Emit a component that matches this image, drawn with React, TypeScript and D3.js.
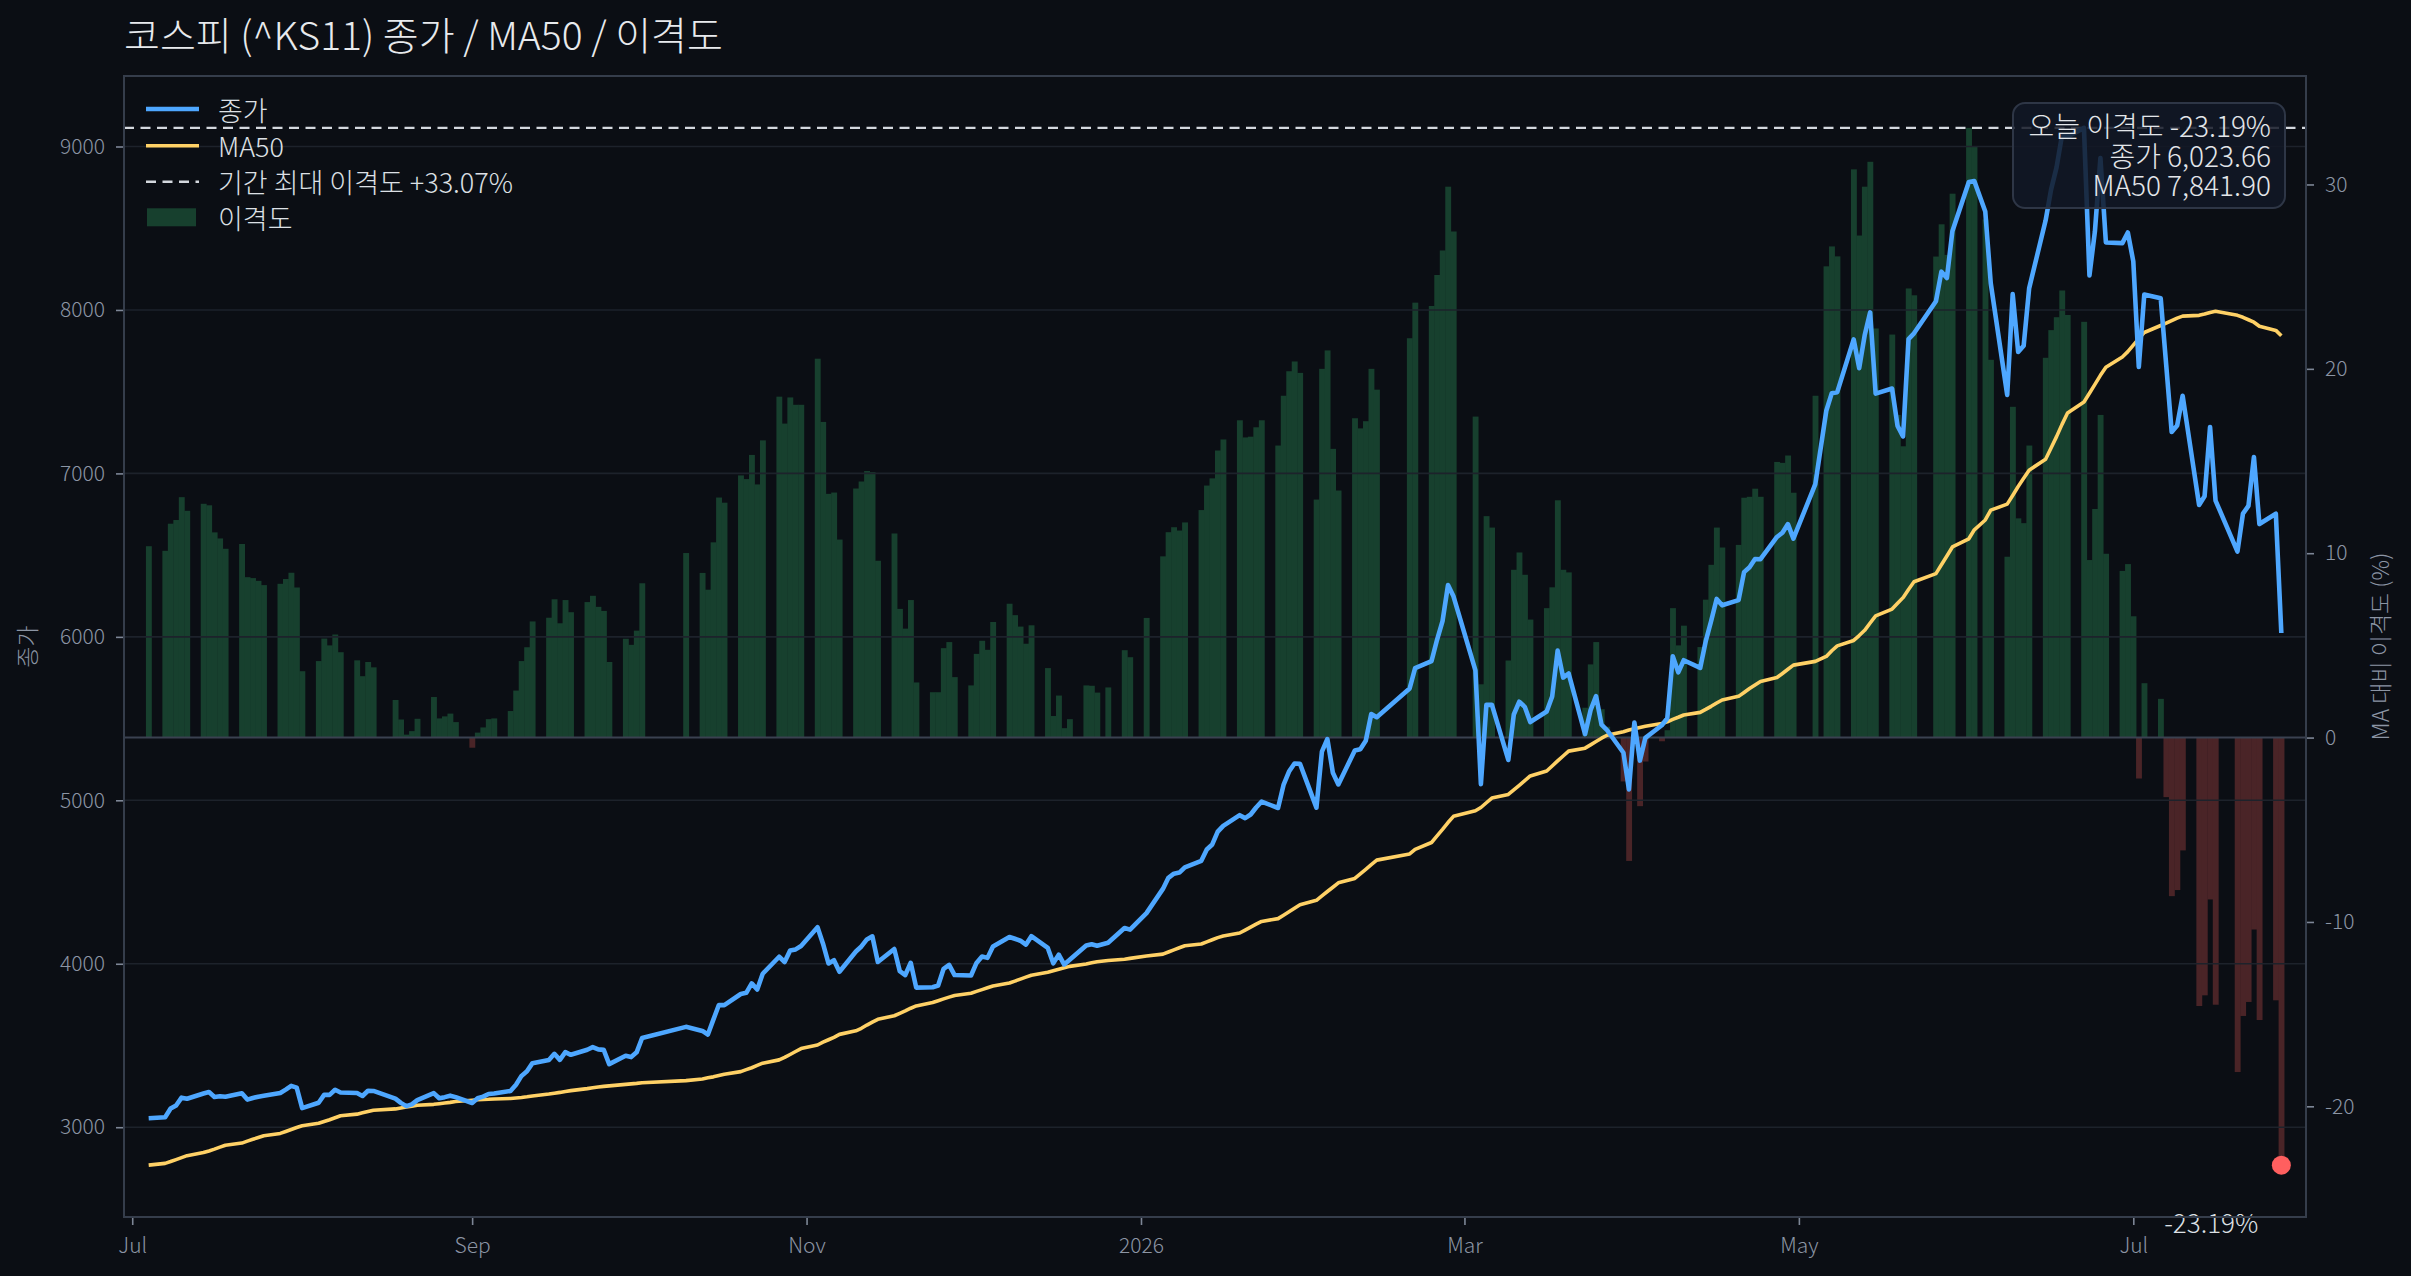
import { useEffect, useRef } from 'react';
import * as d3 from 'd3';

// 거래일 달력: 주말과 휴장일을 뺀 평일
const FIRST_DAY = '2025-07-04';
const LAST_DAY = '2026-07-28';
const HOLIDAYS = [
  '2025-08-15', '2025-10-03', '2025-10-06', '2025-10-07', '2025-10-08', '2025-10-09',
  '2025-12-25', '2025-12-31', '2026-01-01', '2026-02-16', '2026-02-17', '2026-02-18',
  '2026-03-02', '2026-05-01', '2026-05-05', '2026-05-25', '2026-06-03', '2026-07-17',
];

// 종가 (월별 한 줄)
const closeValues = [
  3055, 3061, 3114, 3133, 3181, 3174, 3206, 3215, 3185, 3189, 3186, 3208, 3169, 3179, 3187, 3192, 3209, 3230, 3253, 3242,
  3117, 3150, 3198, 3198, 3229, 3212, 3209, 3191, 3223, 3222, 3175, 3149, 3129, 3140, 3166, 3209, 3177, 3184, 3193, 3184,
  3148, 3177, 3187, 3203, 3206, 3222, 3260, 3314, 3342, 3392, 3411, 3449, 3412, 3459, 3443, 3474, 3490, 3476, 3473, 3386, 3437, 3429,
  3458, 3546, 3614, 3589, 3567, 3658, 3748, 3747, 3815, 3822, 3880, 3842, 3939, 4043, 4011, 4081, 4088, 4109,
  4223, 4123, 4002, 4022, 3951, 4075, 4106, 4149, 4168, 4011, 4090, 3955, 3931, 4006, 3854, 3856, 3867, 3969, 3993, 3931,
  3928, 4005, 4044, 4036, 4106, 4164, 4153, 4141, 4117, 4169, 4097, 4003, 4056, 3995, 4024, 4112, 4119, 4110, 4129, 4219, 4209,
  4310, 4458, 4526, 4551, 4558, 4590, 4630, 4699, 4730, 4808, 4844, 4909, 4891, 4913, 4956, 4992, 4953, 5094, 5176, 5225, 5224,
  4955, 5298, 5375, 5168, 5097, 5305, 5313, 5364, 5528, 5508, 5684, 5809, 5852, 5982, 6096, 6317, 6248,
  5795, 5099, 5584, 5585, 5247, 5525, 5603, 5572, 5479, 5543, 5635, 5916, 5751, 5776, 5405, 5551, 5638, 5463, 5430, 5291, 5067,
  5476, 5243, 5382, 5459, 5502, 5881, 5783, 5857, 5810, 5972, 6097, 6232, 6193, 6225, 6396, 6426, 6476, 6475, 6611, 6637, 6690, 6601,
  6935, 7383, 7491, 7497, 7820, 7644, 7845, 7985, 7488, 7519, 7291, 7226, 7822, 7857, 8053, 8234, 8195, 8482,
  8783, 8788, 8602, 8163, 7480, 8097, 7743, 7781, 8132, 8547, 8736, 8872, 9070, 9059, 9114, 8211, 8481, 8930, 8413, 8409, 8474,
  8297, 7651, 8094, 8071, 7664, 7253, 7293, 7475, 6807, 6860, 7284, 6834, 6522, 6754, 6801, 7100, 6690, 6753, 6023.66,
];

// 50일 이동평균
const ma50Values = [
  2768, 2779, 2790, 2802, 2814, 2826, 2845, 2855, 2866, 2878, 2890, 2903, 2915, 2926, 2937, 2948, 2962, 2974, 2986, 2998,
  3009, 3024, 3035, 3046, 3058, 3070, 3080, 3088, 3096, 3104, 3112, 3118, 3124, 3129, 3134, 3140, 3144, 3148, 3152, 3157,
  3165, 3168, 3170, 3171, 3173, 3176, 3179, 3182, 3186, 3191, 3203, 3208, 3213, 3219, 3224, 3236, 3241, 3246, 3250, 3253, 3262, 3265,
  3268, 3272, 3285, 3295, 3302, 3308, 3316, 3324, 3340, 3352, 3364, 3378, 3392, 3412, 3427, 3445, 3463, 3481,
  3503, 3520, 3535, 3550, 3568, 3590, 3605, 3625, 3643, 3660, 3682, 3697, 3712, 3728, 3742, 3763, 3774, 3785, 3796, 3806,
  3820, 3831, 3842, 3853, 3864, 3882, 3894, 3906, 3918, 3930, 3948, 3957, 3966, 3975, 3984, 3999, 4006, 4012, 4020, 4028, 4033,
  4047, 4059, 4072, 4085, 4098, 4110, 4121, 4134, 4147, 4160, 4170, 4188, 4206, 4224, 4242, 4259, 4276, 4297, 4318, 4340, 4361,
  4388, 4415, 4442, 4468, 4495, 4522, 4550, 4578, 4607, 4634, 4672, 4700, 4742, 4782, 4822, 4864, 4902,
  4936, 4956, 4985, 5014, 5036, 5064, 5092, 5120, 5149, 5179, 5210, 5241, 5271, 5301, 5319, 5339, 5360, 5380, 5398, 5420, 5430,
  5438, 5446, 5453, 5470, 5480, 5495, 5508, 5522, 5538, 5556, 5575, 5595, 5614, 5636, 5660, 5684, 5706, 5727, 5751, 5776, 5802, 5827,
  5850, 5880, 5915, 5945, 5978, 6008, 6040, 6085, 6128, 6170, 6205, 6240, 6290, 6337, 6387, 6441, 6495, 6550,
  6600, 6655, 6715, 6775, 6812, 6865, 6920, 6970, 7020, 7087, 7155, 7225, 7300, 7370, 7437, 7490, 7545, 7600, 7650, 7712, 7745,
  7785, 7825, 7862, 7905, 7920, 7935, 7950, 7962, 7967, 7975, 7985, 7992, 7967, 7955, 7940, 7925, 7900, 7875, 7841.9,
];

// MA 대비 이격도 (%)
const disparityValues = [
  10.38, 10.13, 11.6, 11.8, 13.04, 12.3, 12.68, 12.6, 11.13, 10.8, 10.24, 10.5, 8.7, 8.65, 8.5, 8.27, 8.34, 8.6, 8.94, 8.14,
  3.6, 4.15, 5.37, 5.0, 5.59, 4.63, 4.19, 3.33, 4.1, 3.81, 2.04, 0.98, 0.16, 0.35, 1.02, 2.2, 1.04, 1.15, 1.3, 0.84,
  -0.55, 0.27, 0.55, 1.0, 1.04, 1.44, 2.55, 4.15, 4.9, 6.3, 6.5, 7.5, 6.2, 7.46, 6.8, 7.35, 7.69, 7.09, 6.87, 4.1, 5.36, 5.03,
  5.8, 8.37, 10.01, 8.93, 8.02, 10.59, 13.02, 12.74, 14.22, 14.02, 15.33, 13.73, 16.12, 18.49, 17.03, 18.45, 18.05, 18.05,
  20.55, 17.12, 13.22, 13.29, 10.74, 13.51, 13.89, 14.46, 14.4, 9.59, 11.07, 6.98, 5.91, 7.46, 2.99, 2.46, 2.46, 4.85, 5.18, 3.28,
  2.83, 4.54, 5.25, 4.76, 6.27, 7.26, 6.64, 6.02, 5.09, 6.09, 3.77, 1.17, 2.28, 0.51, 1.0, 2.83, 2.81, 2.44, 2.72, 4.74, 4.36,
  6.49, 9.83, 11.14, 11.41, 11.23, 11.67, 12.34, 13.67, 14.06, 15.57, 16.17, 17.21, 16.28, 16.32, 16.83, 17.21, 15.84, 18.54, 19.87, 20.4, 19.78,
  12.91, 20.0, 21.0, 15.66, 13.4, 17.32, 16.77, 17.16, 20.0, 18.87, 21.66, 23.59, 23.41, 25.09, 26.42, 29.88, 27.45,
  17.41, 2.89, 12.01, 11.39, 4.18, 9.1, 10.04, 8.83, 6.4, 7.02, 8.15, 12.87, 9.1, 8.96, 1.62, 3.97, 5.18, 1.54, 0.59, -2.38, -6.69,
  0.7, -3.72, -1.3, -0.2, 0.4, 7.02, 5.0, 6.07, 4.91, 7.48, 9.37, 11.39, 10.31, 10.45, 13.01, 13.06, 13.5, 13.06, 14.95, 14.9, 15.3, 13.28,
  18.54, 25.56, 26.64, 26.1, 30.82, 27.23, 29.88, 31.23, 22.19, 21.86, 17.5, 15.8, 24.36, 23.99, 26.09, 27.84, 26.18, 29.5,
  33.07, 32.05, 28.1, 20.49, 9.81, 17.94, 11.89, 11.63, 15.84, 20.6, 22.1, 22.8, 24.25, 22.92, 22.55, 9.63, 12.4, 17.5, 9.97, 9.04, 9.41,
  6.58, -2.22, 2.95, 2.1, -3.23, -8.6, -8.27, -6.12, -14.56, -13.98, -8.78, -14.49, -18.14, -15.1, -14.34, -10.41, -15.32, -14.25, -23.19,
];

const priceTicks = [3000, 4000, 5000, 6000, 7000, 8000, 9000];
const gapTicks = [-20, -10, 0, 10, 20, 30];
const monthTickDates = ['2025-07-01', '2025-09-01', '2025-11-01', '2026-01-01', '2026-03-01', '2026-05-01', '2026-07-01'];
const monthTickLabels = ['Jul', 'Sep', 'Nov', '2026', 'Mar', 'May', 'Jul'];

const W = 2411;
const H = 1276;
const DAY = 864e5;
const FONT = "'Noto Sans CJK KR', 'Noto Sans', sans-serif";
const WEIGHT = 300;

const BG = '#0b0e14';
const GRID = '#1d222b';
const SPINE = '#353d4b';
const TICK_TEXT = '#8c95a4';
const TEXT = '#dde0e5';
const BLUE = '#4ea7ff';
const YELLOW = '#ffd166';
const DASH = '#d4d8de';
const POS = '#17402e';
const NEG = '#4a2427';
const DOT = '#ff5f5f';

interface Row {
  date: Date;
  close: number;
  ma: number;
  gap: number;
}

function parseDay(s: string) {
  const [y, m, d] = s.split('-').map(Number);
  return new Date(Date.UTC(y, m - 1, d));
}

function tradingDays(): Date[] {
  const skip = new Set(HOLIDAYS);
  const out: Date[] = [];
  const end = parseDay(LAST_DAY).getTime();
  for (let t = parseDay(FIRST_DAY).getTime(); t <= end; t += DAY) {
    const dt = new Date(t);
    const wd = dt.getUTCDay();
    if (wd === 0 || wd === 6) continue;
    if (skip.has(dt.toISOString().slice(0, 10))) continue;
    out.push(dt);
  }
  return out;
}

export default function App() {
  const svgRef = useRef<SVGSVGElement>(null);

  useEffect(() => {
    if (!svgRef.current) return;
    document.body.style.margin = '0';
    document.body.style.background = BG;

    const svg = d3.select(svgRef.current);
    svg.selectAll('*').remove();

    const dates = tradingDays();
    const rows: Row[] = dates.map((date, i) => ({
      date,
      close: closeValues[i],
      ma: ma50Values[i],
      gap: disparityValues[i],
    }));

    const margin = { top: 76, right: 105, bottom: 59, left: 124 };
    const left = margin.left;
    const right = W - margin.right;
    const top = margin.top;
    const bottom = H - margin.bottom;

    const first = rows[0].date;
    const lastRow = rows[rows.length - 1];

    const x = d3.scaleUtc()
      .domain([new Date(+first - 4.5 * DAY), new Date(+lastRow.date + 4.5 * DAY)])
      .range([left, right]);

    const lo = d3.min(rows, (r) => Math.min(r.close, r.ma)) ?? 0;
    const hi = d3.max(rows, (r) => Math.max(r.close, r.ma)) ?? 1;
    const padP = (hi - lo) * 0.05;
    const yPrice = d3.scaleLinear().domain([lo - padP, hi + padP]).range([bottom, top]);

    const gMin = Math.min(0, d3.min(disparityValues) ?? 0);
    const gMax = Math.max(0, d3.max(disparityValues) ?? 0);
    const padG = (gMax - gMin) * 0.05;
    const yGap = d3.scaleLinear().domain([gMin - padG, gMax + padG]).range([bottom, top]);

    const barW = x(new Date(+first + DAY)) - x(first);

    svg.append('rect').attr('width', W).attr('height', H).attr('fill', BG);

    // 이격도 막대
    svg.append('g')
      .selectAll('rect')
      .data(rows)
      .join('rect')
      .attr('x', (r) => x(r.date) - barW / 2)
      .attr('width', barW + 0.4)
      .attr('y', (r) => yGap(Math.max(0, r.gap)))
      .attr('height', (r) => Math.abs(yGap(r.gap) - yGap(0)))
      .attr('fill', (r) => (r.gap >= 0 ? POS : NEG));

    // 가격 격자
    svg.append('g')
      .selectAll('line')
      .data(priceTicks)
      .join('line')
      .attr('x1', left)
      .attr('x2', right)
      .attr('y1', (t) => yPrice(t))
      .attr('y2', (t) => yPrice(t))
      .attr('stroke', GRID)
      .attr('stroke-width', 1.6);

    svg.append('line')
      .attr('x1', left).attr('x2', right)
      .attr('y1', yGap(0)).attr('y2', yGap(0))
      .attr('stroke', '#3a4150').attr('stroke-width', 2);

    svg.append('line')
      .attr('x1', left).attr('x2', right)
      .attr('y1', yGap(gMax)).attr('y2', yGap(gMax))
      .attr('stroke', DASH).attr('stroke-width', 2.4).attr('stroke-dasharray', '10 6.5');

    const maLine = d3.line<Row>().x((r) => x(r.date)).y((r) => yPrice(r.ma));
    const closeLine = d3.line<Row>().x((r) => x(r.date)).y((r) => yPrice(r.close));

    svg.append('path').datum(rows).attr('d', maLine)
      .attr('fill', 'none').attr('stroke', YELLOW).attr('stroke-width', 3.6).attr('stroke-linejoin', 'round');
    svg.append('path').datum(rows).attr('d', closeLine)
      .attr('fill', 'none').attr('stroke', BLUE).attr('stroke-width', 4.6).attr('stroke-linejoin', 'round');

    const lx = x(lastRow.date);
    const ly = yGap(lastRow.gap);
    svg.append('circle').attr('cx', lx).attr('cy', ly).attr('r', 9.5).attr('fill', DOT);
    svg.append('text')
      .attr('x', lx - 23).attr('y', ly + 68)
      .attr('text-anchor', 'end')
      .attr('font-family', FONT).attr('font-weight', WEIGHT).attr('font-size', 26).attr('fill', TEXT)
      .text(`${lastRow.gap.toFixed(2)}%`);

    // 축
    const styleAxis = (g: d3.Selection<SVGGElement, unknown, null, undefined>) => {
      g.select('.domain').remove();
      g.selectAll('.tick line').attr('stroke', '#7d8696').attr('stroke-width', 1.6);
      g.selectAll('.tick text')
        .attr('fill', TICK_TEXT)
        .attr('font-size', 21)
        .attr('font-weight', WEIGHT)
        .attr('font-family', FONT);
    };

    svg.append('g')
      .attr('transform', `translate(${left},0)`)
      .call(d3.axisLeft(yPrice).tickValues(priceTicks).tickFormat((v) => String(v)).tickSize(8).tickPadding(11))
      .call(styleAxis);

    svg.append('g')
      .attr('transform', `translate(${right},0)`)
      .call(d3.axisRight(yGap).tickValues(gapTicks).tickFormat((v) => String(v)).tickSize(8).tickPadding(11))
      .call(styleAxis);

    svg.append('g')
      .attr('transform', `translate(0,${bottom})`)
      .call(
        d3.axisBottom(x)
          .tickValues(monthTickDates.map(parseDay))
          .tickFormat((_d, i) => monthTickLabels[i])
          .tickSize(8)
          .tickPadding(13)
      )
      .call(styleAxis);

    svg.append('rect')
      .attr('x', left).attr('y', top)
      .attr('width', right - left).attr('height', bottom - top)
      .attr('fill', 'none').attr('stroke', SPINE).attr('stroke-width', 2);

    // 축 제목
    svg.append('text')
      .attr('transform', `translate(26,${(top + bottom) / 2}) rotate(-90)`)
      .attr('text-anchor', 'middle').attr('dominant-baseline', 'central')
      .attr('font-family', FONT).attr('font-weight', WEIGHT).attr('font-size', 23).attr('fill', TICK_TEXT)
      .text('종가');
    svg.append('text')
      .attr('transform', `translate(2379,${(top + bottom) / 2}) rotate(-90)`)
      .attr('text-anchor', 'middle').attr('dominant-baseline', 'central')
      .attr('font-family', FONT).attr('font-weight', WEIGHT).attr('font-size', 23).attr('fill', TICK_TEXT)
      .text('MA 대비 이격도 (%)');

    // 제목
    svg.append('text')
      .attr('x', left).attr('y', 50)
      .attr('font-family', FONT).attr('font-weight', WEIGHT).attr('font-size', 39).attr('fill', '#e8eaed')
      .text('코스피 (^KS11) 종가 / MA50 / 이격도');

    // 범례
    const legend = svg.append('g')
      .attr('font-family', FONT).attr('font-weight', WEIGHT).attr('font-size', 27).attr('fill', TEXT);
    const items = [
      { label: '종가', kind: 'line', color: BLUE, y: 109 },
      { label: 'MA50', kind: 'line', color: YELLOW, y: 145.7 },
      { label: `기간 최대 이격도 +${gMax.toFixed(2)}%`, kind: 'dash', color: DASH, y: 181.7 },
      { label: '이격도', kind: 'patch', color: POS, y: 217.3 },
    ];
    items.forEach((it) => {
      if (it.kind === 'patch') {
        legend.append('rect').attr('x', 147).attr('y', it.y - 9).attr('width', 49).attr('height', 18).attr('fill', it.color);
      } else {
        legend.append('line')
          .attr('x1', 146).attr('x2', 199).attr('y1', it.y).attr('y2', it.y)
          .attr('stroke', it.color)
          .attr('stroke-width', it.kind === 'dash' ? 2.4 : it.color === BLUE ? 4.6 : 3.6)
          .attr('stroke-dasharray', it.kind === 'dash' ? '10 6.5' : null);
      }
      legend.append('text').attr('x', 218).attr('y', it.y).attr('dominant-baseline', 'central').text(it.label);
    });

    // 오늘 값 상자
    const fmt = d3.format(',.2f');
    const info = svg.append('g');
    info.append('rect')
      .attr('x', 2013).attr('y', 103).attr('width', 272).attr('height', 105).attr('rx', 12)
      .attr('fill', '#121826').attr('fill-opacity', 0.85)
      .attr('stroke', '#2e3646').attr('stroke-width', 2);
    const infoLines = [
      `오늘 이격도 ${lastRow.gap.toFixed(2)}%`,
      `종가 ${fmt(lastRow.close)}`,
      `MA50 ${fmt(lastRow.ma)}`,
    ];
    infoLines.forEach((t, i) => {
      info.append('text')
        .attr('x', 2271).attr('y', 137 + i * 29.5)
        .attr('text-anchor', 'end')
        .attr('font-family', FONT).attr('font-weight', WEIGHT).attr('font-size', 28).attr('fill', '#e3e6ea')
        .text(t);
    });
  }, []);

  return (
    <div style={{ position: 'absolute', left: 0, top: 0, width: W, height: H, background: BG }}>
      <svg ref={svgRef} width={W} height={H} style={{ display: 'block' }} />
    </div>
  );
}
